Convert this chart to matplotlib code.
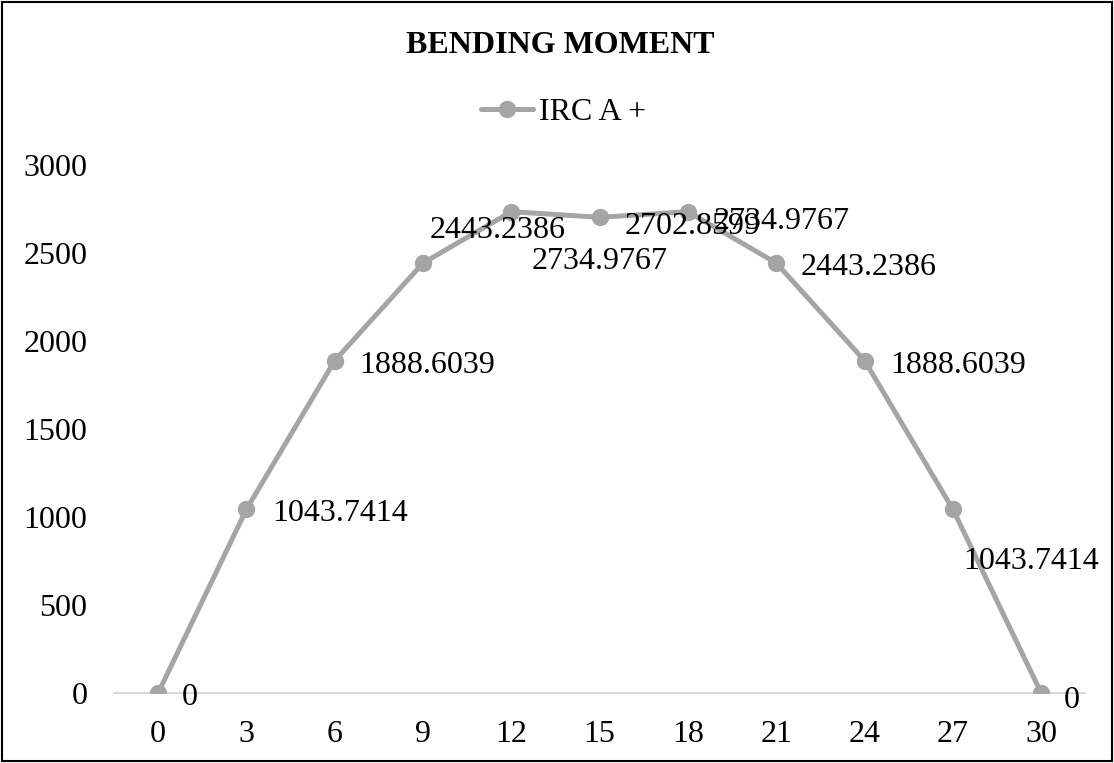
import numpy as np
import matplotlib.pyplot as plt
from matplotlib.patches import Rectangle

plt.rcParams['font.family'] = ['Liberation Serif', 'DejaVu Serif']

# %%
spans = [0, 3, 6, 9, 12, 15, 18, 21, 24, 27, 30]
moment = [0, 1043.7414, 1888.6039, 2443.2386, 2734.9767, 2702.8599,
          2734.9767, 2443.2386, 1888.6039, 1043.7414, 0]
labels = ['0', '1043.7414', '1888.6039', '2443.2386', '2734.9767', '2702.8599',
          '2734.9767', '2443.2386', '1888.6039', '1043.7414', '0']
# label offsets in pixels (dx to the left edge, dy down), as excel placed them
offsets = [(24, 1), (26, 1), (25, 2), (7, -36), (20, 47), (25, 6),
           (26, 7), (24, 1), (26, 2), (10, 49), (23, 4)]

# %%
fig = plt.figure(figsize=(11.14, 7.63), dpi=100)
ax = fig.add_axes([0.1023, 0.0917, 0.872, 0.692])

grey = '#a5a5a5'
ax.plot(spans, moment, color=grey, lw=3.6, marker='o', ms=11.5, label='IRC A +',
        solid_capstyle='round', zorder=3)

fs = 23
for xv, yv, lab, (dx, dy) in zip(spans, moment, labels, offsets):
    ax.annotate(lab, (xv, yv), xytext=(dx * 0.72, -(dy + 3) * 0.72),
                textcoords='offset points', ha='left', va='center',
                fontsize=fs, color='black', zorder=4)

ax.set_xlim(-1.5, 31.5)
ax.set_ylim(0, 3000)
ax.set_xticks(spans)
ax.set_yticks(np.arange(0, 3001, 500))
ax.tick_params(length=0, labelsize=fs)
ax.tick_params(axis='x', pad=19.5)
ax.tick_params(axis='y', pad=19)
for side in ['top', 'right', 'left']:
    ax.spines[side].set_visible(False)
ax.spines['bottom'].set_color('#d9d9d9')
ax.spines['bottom'].set_linewidth(1.5)
ax.spines['bottom'].set_zorder(1)

fig.text(0.503, 0.941, 'BENDING MOMENT', ha='center', va='center',
         fontsize=fs, fontweight='bold')
fig.legend(loc='center', bbox_to_anchor=(0.506, 0.853), frameon=False,
           fontsize=fs, handlelength=1.63, handletextpad=0.19)

fig.patches.append(Rectangle((0.002, 0.002), 0.996, 0.996, transform=fig.transFigure,
                             fill=False, edgecolor='black', lw=1.5))

fig.savefig('out.png', dpi=100)
